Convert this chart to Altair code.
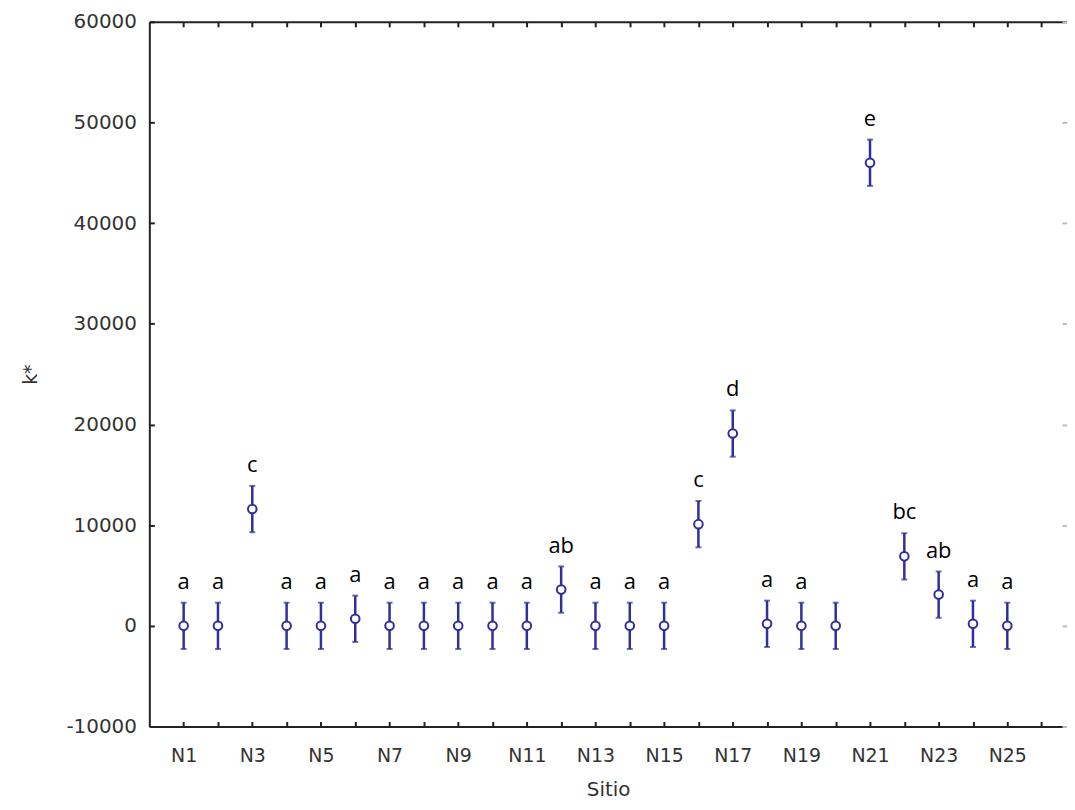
import altair as alt
import pandas as pd

# ---- data ----
sites = [f"N{i}" for i in range(1, 26)]
positions = list(range(1, 26))
means = [0, 0, 11600, 0, 0, 700, 0, 0, 0, 0, 0, 3600, 0, 0, 0,
         10100, 19100, 200, 0, 0, 46000, 6900, 3100, 200, 0]
errors = [2300, 2300, 2300, 2300, 2300, 2300, 2300, 2300, 2300, 2300,
          2300, 2300, 2300, 2300, 2300, 2300, 2300, 2300, 2300, 2300,
          2300, 2300, 2300, 2300, 2300]
letters = ["a", "a", "c", "a", "a", "a", "a", "a", "a", "a", "a", "ab", "a",
           "a", "a", "c", "d", "a", "a", "", "e", "bc", "ab", "a", "a"]
x_ticks = list(range(1, 27))
y_ticks = list(range(-10000, 60001, 10000))

df = pd.DataFrame({
    "site": sites,
    "pos": positions,
    "mean": means,
    "lo": [m - e for m, e in zip(means, errors)],
    "hi": [m + e for m, e in zip(means, errors)],
    "letter": letters,
})

BLUE = "#2f2f9c"
AXC = "#222222"
FONT = "DejaVu Sans"

xs = alt.Scale(domain=[0, 26.74], nice=False, zero=False)
ys = alt.Scale(domain=[-10000, 60000], nice=False, zero=False)

def ax_main_x():
    return alt.Axis(orient="bottom", values=x_ticks, ticks=False, grid=False,
                    domain=True, domainColor=AXC, domainWidth=2,
                    labelExpr="datum.value % 2 == 1 ? 'N' + datum.value : ''",
                    labelFont=FONT, labelFontSize=19, labelColor="#333333",
                    labelPadding=20, labelFlush=False, labelOverlap=False,
                    title="Sitio", titleFont=FONT, titleFontSize=20,
                    titleFontWeight="normal", titleColor="#333333", titlePadding=14)

def ax_main_y():
    return alt.Axis(orient="left", values=y_ticks, ticks=False, grid=False,
                    domain=True, domainColor=AXC, domainWidth=2,
                    labelExpr="datum.value < 0 ? '-' + abs(datum.value) : '' + datum.value",
                    labelFont=FONT, labelFontSize=20, labelColor="#333333",
                    labelPadding=13, labelFlush=False, labelOverlap=False,
                    title="k*", titleFont=FONT, titleFontSize=19,
                    titleFontWeight="normal", titleColor="#333333", titlePadding=26)

def ax_ticks(orient, vals, offset=-5, color=AXC):
    return alt.Axis(orient=orient, values=vals, ticks=True, tickSize=5,
                    tickWidth=2, tickColor=color, labels=False, grid=False,
                    domain=False, title=None, offset=offset)

def ax_line(orient):
    return alt.Axis(orient=orient, ticks=False, labels=False, grid=False,
                    domain=True, domainColor=AXC, domainWidth=2, title=None)

base = alt.Chart(df)

bars = base.mark_rule(color=BLUE, strokeWidth=2.5).encode(
    x=alt.X("pos:Q", scale=xs, axis=ax_main_x()),
    y=alt.Y("lo:Q", scale=ys, axis=ax_main_y()),
    y2="hi:Q",
)

caps_hi = base.mark_tick(color=BLUE, thickness=2, size=6, orient="horizontal").encode(
    x=alt.X("pos:Q", scale=xs, axis=ax_line("top")),
    y=alt.Y("hi:Q", scale=ys, axis=None),
)

caps_lo = base.mark_tick(color=BLUE, thickness=2, size=6, orient="horizontal").encode(
    x=alt.X("pos:Q", scale=xs, axis=ax_ticks("bottom", x_ticks)),
    y=alt.Y("lo:Q", scale=ys, axis=ax_ticks("left", y_ticks)),
)

points = base.mark_point(shape="circle", filled=True, fill="white", stroke=BLUE,
                         strokeWidth=2, size=75, opacity=1).encode(
    x=alt.X("pos:Q", scale=xs, axis=ax_ticks("top", x_ticks)),
    y=alt.Y("mean:Q", scale=ys, axis=ax_ticks("right", y_ticks, color="#bbbbbb")),
)

labels = base.mark_text(font="Open Sans", fontSize=22, color="black",
                        baseline="alphabetic", align="center", dy=-14).encode(
    x=alt.X("pos:Q", scale=xs, axis=None),
    y=alt.Y("hi:Q", scale=ys, axis=None),
    text="letter:N",
)

chart = alt.layer(bars, caps_hi, caps_lo, points, labels).resolve_axis(
    x="independent", y="independent"
).properties(
    width=922, height=708,
    autosize=alt.AutoSizeParams(type="none"),
    padding={"left": 142, "top": 12, "right": 0, "bottom": 80},
).configure_view(stroke=None).configure(background="white")

chart.save("out.html", embed_options={"renderer": "svg", "actions": False})
